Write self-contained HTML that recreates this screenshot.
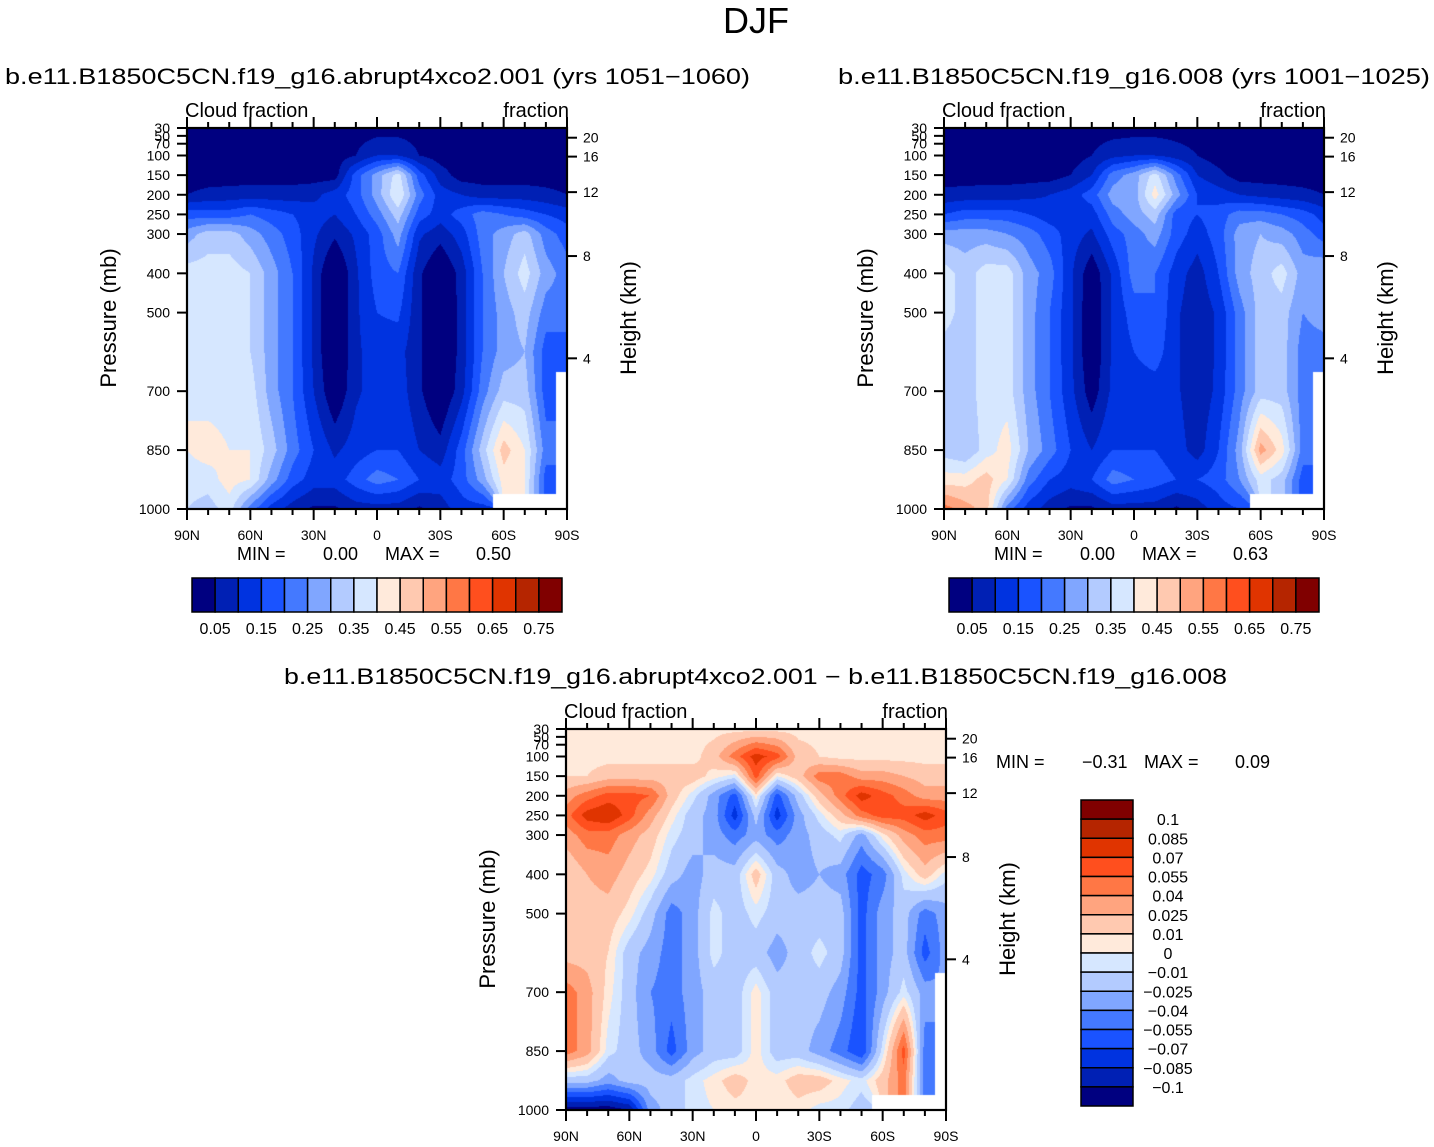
<!DOCTYPE html>
<html><head><meta charset="utf-8"><title>DJF Cloud fraction</title>
<style>
html,body{margin:0;padding:0;background:#fff;}
#wrap{position:relative;width:1434px;height:1147px;overflow:hidden;background:#fff;}
canvas{position:absolute;}
svg{position:absolute;left:0;top:0;}
text{font-family:"Liberation Sans",sans-serif;fill:#000;}
</style></head>
<body>
<div id="wrap">
<canvas id="c1" width="380" height="381" style="left:187px;top:128px"></canvas>
<canvas id="c2" width="380" height="381" style="left:944px;top:128px"></canvas>
<canvas id="c3" width="380" height="381" style="left:566px;top:729px"></canvas>
<svg id="svg" width="1434" height="1147" viewBox="0 0 1434 1147" xmlns="http://www.w3.org/2000/svg">
<text x="756" y="33" font-size="36" text-anchor="middle" font-weight="normal">DJF</text>
<text x="5" y="84" font-size="22" textLength="745" lengthAdjust="spacingAndGlyphs">b.e11.B1850C5CN.f19_g16.abrupt4xco2.001  (yrs  1051−1060)</text>
<text x="838" y="84" font-size="22" textLength="592" lengthAdjust="spacingAndGlyphs">b.e11.B1850C5CN.f19_g16.008  (yrs  1001−1025)</text>
<text x="284" y="684" font-size="22" textLength="943" lengthAdjust="spacingAndGlyphs">b.e11.B1850C5CN.f19_g16.abrupt4xco2.001  −  b.e11.B1850C5CN.f19_g16.008</text>
<g id="axes"></g>
</svg>
</div>
<script>
// ---- data ----
const lats = [90,80,70,60,50,40,30,20,10,0,-10,-20,-30,-40,-50,-60,-70,-80,-90];
const plevs = [30,100,150,200,250,300,400,500,600,700,850,925,1000];
const latTickLabels = ["90N","60N","30N","0","30S","60S","90S"];
const latTicks = [90,60,30,0,-30,-60,-90];
const presTicks = [30,50,70,100,150,200,250,300,400,500,700,850,1000];
const heightTicks = [20,16,12,8,4];
const cbLabels1 = ["0.05","0.15","0.25","0.35","0.45","0.55","0.65","0.75"];
const levels1 = [0.05,0.1,0.15,0.2,0.25,0.3,0.35,0.4,0.45,0.5,0.55,0.6,0.65,0.7,0.75];
const levels3 = [-0.1,-0.085,-0.07,-0.055,-0.04,-0.025,-0.01,0,0.01,0.025,0.04,0.055,0.07,0.085,0.1];
const cbLabels3 = ["−0.1","−0.085","−0.07","−0.055","−0.04","−0.025","−0.01","0","0.01","0.025","0.04","0.055","0.07","0.085","0.1"];
const colors = ["#000080","#0020b4","#0033e0","#1a53ff","#4479ff","#80a6ff","#b3cbff","#d6e7ff","#ffeadb","#ffc9b0","#ffa47f","#ff7745","#ff4f1e","#e03400","#b52500","#800000"];
const stats1 = ["0.00","0.50"];
const stats2 = ["0.00","0.63"];
const stats3 = ["−0.31","0.09"];
const field1 = [
[0.025,0.025,0.025,0.025,0.025,0.025,0.025,0.025,0.025,0.025,0.025,0.025,0.025,0.025,0.025,0.025,0.025,0.025,0.025],
[0.025,0.025,0.025,0.025,0.025,0.025,0.025,0.025,0.05,0.1,0.1,0.05,0.025,0.025,0.025,0.025,0.025,0.025,0.025],
[0.025,0.025,0.025,0.025,0.025,0.025,0.025,0.025,0.175,0.275,0.375,0.175,0.075,0.025,0.025,0.025,0.025,0.025,0.025],
[0.05,0.065,0.07,0.075,0.075,0.075,0.085,0.125,0.175,0.275,0.4,0.225,0.125,0.1,0.075,0.075,0.075,0.065,0.05],
[0.175,0.175,0.175,0.2,0.175,0.15,0.125,0.1,0.15,0.225,0.325,0.175,0.125,0.175,0.225,0.2,0.175,0.15,0.125],
[0.275,0.325,0.325,0.275,0.225,0.175,0.11,0.06,0.11,0.175,0.275,0.11,0.07,0.125,0.225,0.275,0.325,0.225,0.175],
[0.375,0.375,0.375,0.35,0.275,0.2,0.09,-0.02,0.09,0.175,0.2,0.06,-0.01,0.07,0.2,0.3,0.375,0.275,0.225],
[0.375,0.375,0.375,0.35,0.275,0.2,0.09,-0.02,0.09,0.15,0.16,0.06,-0.02,0.07,0.2,0.275,0.325,0.225,0.225],
[0.375,0.35,0.375,0.35,0.275,0.2,0.09,-0.02,0.09,0.125,0.12,0.06,-0.02,0.07,0.2,0.275,0.3,0.175,0.175],
[0.4,0.375,0.375,0.375,0.275,0.2,0.1,0.0,0.09,0.125,0.13,0.06,-0.01,0.08,0.225,0.325,0.325,0.175,null],
[0.4,0.425,0.4,0.4,0.325,0.225,0.15,0.09,0.125,0.15,0.15,0.1,0.07,0.175,0.325,0.475,0.4,0.225,null],
[0.375,0.375,0.425,0.4,0.275,0.175,0.125,0.125,0.175,0.225,0.2,0.15,0.125,0.175,0.275,0.425,0.4,0.175,null],
[0.35,0.325,0.375,0.225,0.125,0.075,0.04,0.04,0.075,0.075,0.075,0.04,0.075,0.125,0.125,null,null,null,null]
];
const field2 = [
[0.025,0.025,0.025,0.025,0.025,0.025,0.025,0.025,0.025,0.025,0.025,0.025,0.025,0.025,0.025,0.025,0.025,0.025,0.025],
[0.025,0.025,0.025,0.025,0.025,0.025,0.025,0.05,0.085,0.1,0.1,0.075,0.05,0.025,0.025,0.025,0.025,0.025,0.025],
[0.025,0.025,0.025,0.025,0.025,0.025,0.05,0.1,0.225,0.275,0.375,0.225,0.1,0.065,0.025,0.025,0.025,0.025,0.025],
[0.065,0.07,0.075,0.075,0.085,0.1,0.125,0.175,0.275,0.275,0.425,0.275,0.15,0.125,0.1,0.085,0.075,0.065,0.05],
[0.15,0.175,0.175,0.175,0.15,0.125,0.125,0.125,0.225,0.275,0.325,0.175,0.15,0.175,0.225,0.225,0.2,0.175,0.125],
[0.275,0.275,0.275,0.25,0.225,0.175,0.125,0.09,0.175,0.225,0.275,0.175,0.125,0.175,0.275,0.3,0.275,0.225,0.175],
[0.375,0.325,0.375,0.375,0.275,0.225,0.11,0.01,0.11,0.225,0.2,0.125,0.075,0.15,0.275,0.325,0.375,0.275,0.3],
[0.375,0.325,0.375,0.375,0.275,0.2,0.11,0.0,0.11,0.175,0.2,0.11,0.06,0.11,0.225,0.325,0.325,0.25,0.275],
[0.325,0.325,0.375,0.375,0.275,0.2,0.11,0.0,0.11,0.15,0.175,0.11,0.06,0.11,0.225,0.325,0.325,0.225,0.225],
[0.325,0.325,0.375,0.375,0.275,0.2,0.115,0.02,0.115,0.125,0.125,0.11,0.06,0.115,0.225,0.325,0.325,0.225,null],
[0.325,0.3,0.375,0.425,0.3,0.225,0.15,0.1,0.15,0.15,0.15,0.125,0.075,0.15,0.275,0.525,0.425,0.225,null],
[0.425,0.425,0.475,0.4,0.225,0.15,0.125,0.15,0.225,0.2,0.175,0.15,0.15,0.175,0.25,0.375,0.325,0.175,null],
[0.575,0.525,0.475,0.225,0.125,0.075,0.04,0.04,0.075,0.075,0.075,0.04,0.075,0.125,0.15,null,null,null,null]
];
const field3 = [
[0.005,0.005,0.005,0.005,0.005,0.005,0.005,0.005,0.005,0.005,0.005,0.005,0.005,0.005,0.005,0.005,0.005,0.005,0.005],
[0.005,0.005,0.005,0.005,0.005,0.005,0.005,0.018,0.048,0.078,0.062,0.018,0.01,0.005,0.005,0.005,0.005,0.005,0.005],
[0.01,0.01,0.018,0.018,0.018,0.018,0.018,0.005,-0.005,0.062,0,0.018,0.048,0.048,0.032,0.032,0.025,0.018,0.018],
[0.032,0.048,0.062,0.062,0.055,0.018,-0.005,-0.032,-0.062,0.005,-0.062,-0.018,0.018,0.048,0.078,0.062,0.048,0.032,0.032],
[0.048,0.078,0.085,0.062,0.032,0.005,-0.018,-0.032,-0.078,-0.018,-0.078,-0.032,-0.005,0.018,0.048,0.062,0.062,0.078,0.062],
[0.032,0.048,0.048,0.032,0.018,-0.005,-0.018,-0.032,-0.048,-0.032,-0.048,-0.032,-0.018,-0.005,-0.032,0.005,0.032,0.048,0.048],
[0.01,0.025,0.032,0.018,0.005,-0.018,-0.032,-0.018,-0.018,0.018,-0.018,-0.032,-0.025,-0.032,-0.062,-0.048,-0.005,0.018,-0.005],
[0.018,0.018,0.018,0.005,-0.018,-0.048,-0.032,-0.005,-0.018,-0.005,-0.018,-0.018,-0.018,-0.018,-0.062,-0.032,-0.018,-0.048,-0.032],
[0.018,0.018,0.01,-0.018,-0.032,-0.048,-0.032,-0.005,-0.018,-0.018,-0.032,-0.018,-0.005,-0.018,-0.062,-0.032,-0.018,-0.062,-0.032],
[0.048,0.032,0.005,-0.018,-0.04,-0.048,-0.032,-0.018,-0.018,0.005,-0.018,-0.018,-0.018,-0.032,-0.062,-0.032,-0.005,-0.032,null],
[0.048,0.032,-0.005,-0.018,-0.032,-0.062,-0.032,-0.018,-0.018,0.005,-0.018,-0.018,-0.032,-0.048,-0.07,-0.005,0.062,-0.048,null],
[-0.018,-0.018,-0.032,-0.018,-0.018,-0.018,-0.005,0.005,0.018,0.005,0.005,0.018,0.018,0.005,-0.005,0.018,0.048,-0.048,null],
[-0.11,-0.11,-0.11,-0.1,-0.032,-0.018,-0.005,0,0.005,0.005,0,0.005,-0.005,-0.005,-0.018,null,null,null,null]
];

// ---- axis functions ----
const PW = 380, PH = 381;
function xOfLat(l){ return (90 - l) / 180 * PW; }
function yOfP(p){ return (p - 30) / 970 * PH; }
function pOfZkm(z){
  if (z <= 11) return 1013.25 * Math.pow(1 - 2.25577e-5 * z * 1000, 5.25588);
  return 226.3 * Math.exp(-(z - 11) / 6.34);
}
function binOf(v, levels){ let k = 0; for (const b of levels) if (v >= b) k++; return k; }
function hexRGB(h){ return [parseInt(h.substr(1,2),16),parseInt(h.substr(3,2),16),parseInt(h.substr(5,2),16)]; }
const rgb = colors.map(hexRGB);

function sample(field, lat, p){
  let fi = (90 - lat) / 10; if (fi < 0) fi = 0; if (fi > lats.length - 1) fi = lats.length - 1;
  let i0 = Math.min(Math.floor(fi), lats.length - 2), tx = fi - i0;
  let j0 = 0; while (j0 < plevs.length - 2 && p > plevs[j0 + 1]) j0++;
  let ty = (p - plevs[j0]) / (plevs[j0 + 1] - plevs[j0]); ty = Math.max(0, Math.min(1, ty));
  const ni = tx < 0.5 ? i0 : i0 + 1, nj = ty < 0.5 ? j0 : j0 + 1;
  if (field[nj][ni] === null) return null;
  const c = [[j0,i0,(1-tx)*(1-ty)],[j0,i0+1,tx*(1-ty)],[j0+1,i0,(1-tx)*ty],[j0+1,i0+1,tx*ty]];
  let s = 0, w = 0;
  for (const [j,i,wt] of c){ const v = field[j][i]; if (v !== null){ s += v * wt; w += wt; } }
  return w > 0 ? s / w : null;
}
function drawField(id, field, levels){
  const cv = document.getElementById(id), ctx = cv.getContext('2d');
  const img = ctx.createImageData(PW, PH);
  for (let y = 0; y < PH; y++){
    const p = 30 + (y + 0.5) / PH * 970;
    for (let x = 0; x < PW; x++){
      const lat = 90 - (x + 0.5) / PW * 180;
      const v = sample(field, lat, p);
      const o = (y * PW + x) * 4;
      let c = [255,255,255];
      if (v !== null) c = rgb[binOf(v, levels)];
      img.data[o] = c[0]; img.data[o+1] = c[1]; img.data[o+2] = c[2]; img.data[o+3] = 255;
    }
  }
  ctx.putImageData(img, 0, 0);
}
drawField('c1', field1, levels1);
drawField('c2', field2, levels1);
drawField('c3', field3, levels3);

// ---- svg axes ----
const NS = "http://www.w3.org/2000/svg";
const G = document.getElementById('axes');
function el(tag, attrs, parent){ const e = document.createElementNS(NS, tag); for (const k in attrs) e.setAttribute(k, attrs[k]); (parent || G).appendChild(e); return e; }
function txt(x, y, s, size, anchor, parent){ const t = el('text', {x:x, y:y, 'font-size':size, 'text-anchor':anchor || 'start'}, parent); t.textContent = s; return t; }

function drawAxes(x0, y0, stats, tag){
  const g = el('g', {});
  
  
  const fr = el('rect', {x:x0, y:y0, width:PW, height:PH, fill:'none', stroke:'#000', 'stroke-width':2.2}, g);
  
  
  for (let l = 90; l >= -90; l -= 10){
    const x = x0 + xOfLat(l), major = (l % 30 === 0), len = major ? 11 : 6;
    el('line', {x1:x, y1:y0+PH, x2:x, y2:y0+PH+len, stroke:'#000', 'stroke-width':2}, g);
    el('line', {x1:x, y1:y0, x2:x, y2:y0-len, stroke:'#000', 'stroke-width':2}, g);
  }
  latTicks.forEach((l, i) => {
    const t = txt(x0 + xOfLat(l), y0 + PH + 31, latTickLabels[i], 14, 'middle', g);
    
    
  });
  presTicks.forEach(p => {
    const y = y0 + yOfP(p);
    el('line', {x1:x0 - 10, y1:y, x2:x0, y2:y, stroke:'#000', 'stroke-width':2}, g);
    const t = txt(x0 - 17, y + 5, String(p), 14, 'end', g);
    
    
  });
  heightTicks.forEach(z => {
    const y = y0 + yOfP(pOfZkm(z));
    el('line', {x1:x0 + PW, y1:y, x2:x0 + PW + 10, y2:y, stroke:'#000', 'stroke-width':2}, g);
    const t = txt(x0 + PW + 16, y + 5, String(z), 14, 'start', g);
    
    
  });
  const pt = txt(0, 0, 'Pressure  (mb)', 22, 'middle', g);
  pt.setAttribute('transform', 'translate(' + (x0 - 71) + ',' + (y0 + 190) + ') rotate(-90)');
  
  
  const ht = txt(0, 0, 'Height  (km)', 22, 'middle', g);
  ht.setAttribute('transform', 'translate(' + (x0 + PW + 69) + ',' + (y0 + 190) + ') rotate(-90)');
  
  
  const c1 = txt(x0 - 2, y0 - 11, 'Cloud  fraction', 20, 'start', g);
  
  
  const c2 = txt(x0 + PW + 2, y0 - 11, 'fraction', 20, 'end', g);
  
  
}
function drawStats(x, y, stats){
  const items = [['MIN  =', 0], [stats[0], 86], ['MAX  =', 148], [stats[1], 239]];
  items.forEach(([s, dx]) => {
    const t = txt(x + dx, y, s, 18, 'start');
    
    
  });
}
function drawHBar(x0, y0){
  const w = 370 / 16;
  const g = el('g', {});
  
  
  colors.forEach((c, i) => {
    const r = el('rect', {x:x0 + i * w, y:y0, width:w, height:34, fill:c, stroke:'#000', 'stroke-width':1.5}, g);
    
    
  });
  cbLabels1.forEach((s, i) => {
    const t = txt(x0 + (2 * i + 1) * w, y0 + 56, s, 16, 'middle', g);
    
    
  });
}
function drawVBar(x0, y0){
  const h = 306 / 16;
  const g = el('g', {});
  
  
  colors.slice().reverse().forEach((c, i) => {
    const r = el('rect', {x:x0, y:y0 + i * h, width:52, height:h, fill:c, stroke:'#000', 'stroke-width':1.5}, g);
    
    
  });
  cbLabels3.slice().reverse().forEach((s, i) => {
    const t = txt(x0 + 87, y0 + (i + 1) * h + 6, s, 16, 'middle', g);
    
    
  });
}
drawAxes(187, 128, stats1, 'left-panel');
drawAxes(944, 128, stats2, 'right-panel');
drawAxes(566, 729, stats3, 'difference-panel');
drawStats(237, 560, stats1);
drawStats(994, 560, stats2);
drawStats(996, 768, stats3);
drawHBar(192, 578);
drawHBar(949, 578);
drawVBar(1081, 800);
</script>
</body></html>
